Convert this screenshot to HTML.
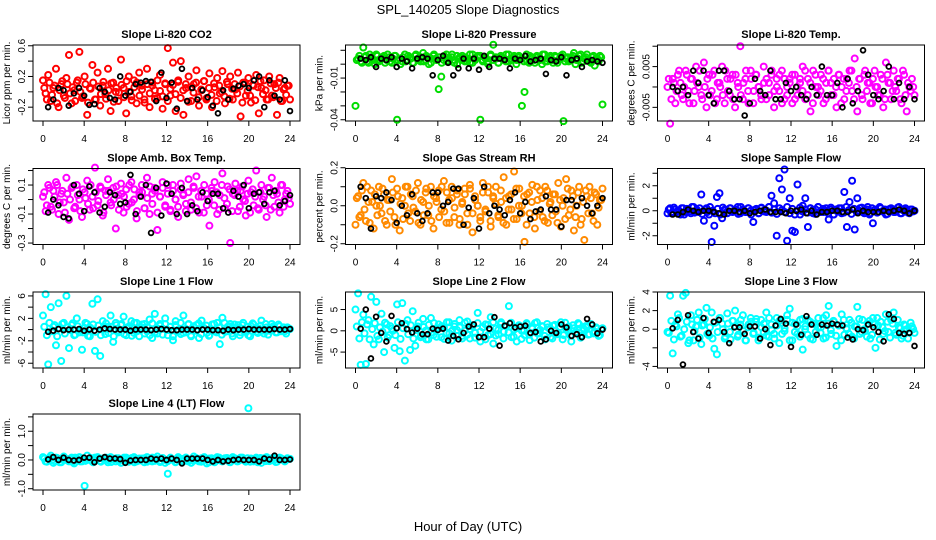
<!DOCTYPE html>
<html><head><meta charset="utf-8"><style>
html,body{margin:0;padding:0;background:#fff;}
svg{display:block;font-family:"Liberation Sans",sans-serif;}
</style></head><body>
<svg id="chart" width="936" height="540" viewBox="0 0 936 540" xmlns="http://www.w3.org/2000/svg">
<rect width="936" height="540" fill="#fff"/>
<text x="468" y="14" text-anchor="middle" font-size="13">SPL_140205  Slope Diagnostics</text>
<text x="468" y="531" text-anchor="middle" font-size="13">Hour of Day (UTC)</text>
</svg>
<script>
const blackHours = [0.5,1,1.5,2,2.5,3,3.5,4,4.5,5,5.5,6,6.5,7,7.5,8,8.5,9,9.5,10,10.5,11,11.5,12,12.5,13,13.5,14,14.5,15,15.5,16,16.5,17,17.5,18,18.5,19,19.5,20,20.5,21,21.5,22,22.5,23,23.5,24];
const hourTicks = [0,4,8,12,16,20,24];

const co2Vals = [0.15,-0.02,0.22,-0.12,0.05,0.3,-0.2,0.1,-0.05,0.18,0.48,-0.15,0.02,0.12,0.52,-0.08,0.2,-0.3,0.05,0.35,-0.1,0.25,-0.18,0.08,-0.03,0.3,-0.25,0.12,0.0,-0.12,0.42,0.05,-0.28,0.2,-0.06,0.15,-0.15,0.25,0.08,-0.1,0.3,-0.2,0.12,0.02,-0.08,0.22,-0.22,0.1,0.57,-0.05,0.38,-0.25,0.15,0.4,-0.3,0.05,0.2,-0.12,0.1,0.28,-0.18,0.02,0.14,-0.08,0.24,-0.2,0.06,0.18,-0.02,0.27,-0.15,0.1,0.2,-0.1,0.03,0.25,-0.32,0.12,-0.05,0.18,-0.14,0.08,0.22,-0.28,0.05,0.15,-0.1,0.2,-0.05,0.1,-0.3,0.18,-0.12,0.05,0.08,-0.1];
const co2Vals2 = [0.05,-0.1,0.12,-0.04,0.08,-0.15,0.02,0.14,-0.08,0.1,-0.02,0.06,-0.12,0.15,0.0,-0.06,0.1,-0.14,0.04,0.12,-0.1,0.07,-0.03,0.13,-0.09,0.02,0.11,-0.13,0.05,-0.01,0.09,-0.07,0.14,0.0,-0.11,0.06,0.12,-0.05,0.03,-0.14,0.1,-0.02,0.08,-0.09,0.15,0.01,-0.06,0.11,-0.12,0.04,0.09,-0.03,0.13,-0.08,0.02,0.1,-0.13,0.06,-0.01,0.12,-0.07,0.03,0.14,-0.1,0.05,-0.04,0.11,-0.12,0.08,0.0,-0.06,0.13,-0.09,0.04,0.1,-0.02,0.07,-0.14,0.12,0.01,-0.05,0.09,-0.11,0.06,0.14,-0.03,0.02,-0.1,0.11,-0.07,0.05,0.12,-0.12,0.03,-0.04,0.08];
const co2Black = [-0.2,-0.1,0.05,0.02,-0.18,-0.02,0.05,-0.05,-0.17,-0.16,0.05,0.0,-0.08,-0.1,0.2,-0.05,0.0,0.1,0.12,0.14,0.13,-0.12,0.25,-0.08,0.12,-0.22,0.3,-0.12,0.05,-0.1,0.02,-0.07,-0.18,-0.28,0.02,-0.1,0.04,0.08,0.1,0.05,0.15,0.2,-0.2,0.15,-0.05,-0.1,0.15,-0.25];

const pressVals = [-0.030,0.004,0.002,0.012,0.006,0.001,0.005,0.003,0.007,0.002,0.004,0.006,0.003,0.005,0.001,0.006,-0.040,0.004,0.002,0.007,0.003,0.005,0.001,0.006,0.004,0.002,0.008,0.003,0.005,0.001,0.006,0.004,-0.018,-0.009,0.003,0.007,0.002,0.005,0.001,0.006,0.004,0.003,0.005,0.002,0.007,0.001,0.004,0.006,-0.040,0.003,0.005,0.002,0.006,0.014,0.004,0.001,0.005,0.003,0.007,0.002,0.004,0.006,0.003,0.005,-0.030,-0.020,0.002,0.006,0.004,0.001,0.005,0.003,0.007,0.002,0.004,0.006,0.001,0.005,0.003,0.006,-0.041,0.004,0.002,0.005,0.008,0.003,0.006,0.001,0.004,0.007,0.002,0.005,-0.001,0.004,0.006,-0.029];
const pressVals2 = [0.003,0.006,0.001,0.005,0.002,0.007,0.004,0.0,0.006,0.003,0.005,0.001,0.007,0.002,0.004,0.006,0.003,0.0,0.005,0.002,0.006,0.004,0.001,0.007,0.003,0.005,0.002,0.006,0.0,0.004,0.007,0.003,0.005,0.001,0.006,0.002,0.004,0.007,0.003,0.0,0.005,0.006,0.002,0.004,0.001,0.007,0.003,0.005,0.006,0.002,0.004,0.0,0.007,0.003,0.005,0.001,0.006,0.004,0.002,0.007,0.003,0.005,0.0,0.006,0.004,0.002,0.007,0.001,0.005,0.003,0.006,0.004,0.0,0.007,0.002,0.005,0.003,0.006,0.001,0.004,0.007,0.002,0.005,0.003,0.006,0.0,0.004,0.007,0.002,0.005,0.003,0.001,0.006,0.004,0.002,0.005];
const pressBlack = [0.004,0.003,0.005,-0.002,0.004,0.003,0.005,-0.002,0.004,0.002,-0.003,0.004,0.005,0.004,-0.008,0.003,0.006,0.001,-0.008,-0.003,0.004,-0.003,0.004,-0.004,0.006,-0.002,0.004,0.004,0.003,-0.003,0.004,0.003,0.006,0.002,0.003,0.004,-0.007,0.003,0.002,0.005,-0.008,0.003,0.004,-0.002,0.002,0.003,0.002,0.001];

const liTempVals = [0.0,-0.009,0.002,-0.004,0.003,0.001,-0.003,0.004,-0.001,0.002,-0.004,0.005,0.0,-0.002,0.006,-0.005,0.003,-0.001,0.004,-0.003,0.001,0.005,-0.004,0.002,-0.002,0.003,-0.005,0.001,0.010,-0.003,0.002,-0.001,0.004,-0.004,0.003,0.0,-0.002,0.005,-0.003,0.001,0.003,-0.005,0.002,-0.001,0.004,-0.003,0.0,0.002,-0.004,0.003,-0.002,0.001,0.005,-0.003,0.002,-0.006,0.004,0.0,-0.002,0.003,-0.004,0.001,0.004,-0.002,0.002,-0.005,0.003,0.0,-0.003,0.002,0.004,-0.001,0.007,-0.006,0.002,-0.003,0.004,0.001,-0.004,0.002,0.0,-0.002,0.003,-0.005,0.006,0.001,-0.003,0.004,-0.001,0.002,-0.004,0.003,-0.006,0.0,0.002,-0.002];
const liTempVals2 = [0.002,-0.003,0.001,-0.001,0.004,-0.002,0.0,0.003,-0.004,0.002,-0.001,0.001,0.004,-0.003,0.0,0.002,-0.002,0.003,-0.004,0.001,0.0,-0.002,0.004,-0.001,0.002,-0.003,0.003,0.0,-0.002,0.001,0.004,-0.004,0.002,-0.001,0.003,0.0,-0.003,0.001,0.002,-0.002,0.004,-0.001,0.0,0.003,-0.004,0.002,-0.002,0.001,0.003,-0.003,0.0,0.002,-0.001,0.004,-0.002,0.001,-0.004,0.003,0.0,-0.001,0.002,-0.003,0.004,0.001,-0.002,0.0,0.003,-0.004,0.002,-0.001,0.001,0.004,-0.003,0.0,0.002,-0.002,0.003,-0.001,0.001,-0.004,0.004,0.0,-0.002,0.002,-0.003,0.003,0.001,-0.001,0.0,0.002,-0.003,0.004,-0.002,0.001,-0.001,0.0];
const liTempBlack = [0.0,-0.001,0.0,-0.002,0.004,0.001,0.004,-0.002,-0.004,0.004,0.004,-0.001,-0.003,-0.003,-0.007,-0.004,0.002,-0.001,-0.002,0.004,-0.003,-0.003,0.001,-0.001,0.0,-0.002,-0.003,0.0,-0.002,0.005,-0.002,-0.002,0.001,-0.005,0.002,-0.004,-0.001,0.009,0.003,-0.002,-0.003,-0.001,0.005,-0.003,0.001,-0.003,0.0,-0.003];

const ambVals = [0.02,-0.08,0.1,-0.05,0.06,0.12,-0.1,0.04,-0.02,0.15,-0.14,0.08,-0.06,0.1,0.0,-0.12,0.05,0.13,-0.07,0.02,0.22,-0.04,0.09,-0.11,0.06,0.14,-0.02,0.08,-0.2,0.03,0.11,-0.09,0.07,-0.03,0.12,0.0,-0.13,0.05,0.1,-0.06,0.15,-0.1,0.04,0.08,-0.21,0.02,0.12,-0.05,0.1,-0.08,0.06,0.0,-0.12,0.11,0.04,-0.03,0.14,-0.07,0.08,0.16,-0.09,0.02,0.1,-0.04,-0.18,0.06,0.12,-0.1,0.03,0.18,-0.06,0.09,-0.3,0.04,0.11,-0.08,0.06,0.0,-0.11,0.13,0.05,-0.04,0.2,-0.07,0.1,0.02,-0.12,0.08,0.15,-0.05,0.04,-0.09,0.1,0.0,0.06,-0.03];
const ambVals2 = [0.05,-0.04,0.08,-0.07,0.02,0.1,-0.02,0.06,-0.09,0.04,0.0,0.09,-0.05,0.03,-0.08,0.07,0.01,-0.03,0.1,-0.06,0.05,-0.01,0.08,-0.09,0.03,0.06,-0.04,0.0,0.09,-0.07,0.04,0.02,-0.05,0.1,-0.02,0.07,-0.08,0.03,0.05,-0.06,0.01,0.09,-0.03,0.06,-0.09,0.02,0.08,-0.04,0.04,-0.07,0.1,0.0,-0.05,0.07,0.03,-0.08,0.05,-0.02,0.09,-0.06,0.02,0.06,-0.09,0.04,0.0,0.08,-0.04,0.05,-0.07,0.1,0.01,-0.03,0.07,-0.08,0.03,0.06,-0.05,0.09,-0.01,0.04,-0.09,0.07,0.02,-0.06,0.05,0.0,-0.04,0.08,-0.07,0.03,0.06,-0.02,0.1,-0.05,0.04,0.01];
const ambBlack = [-0.09,0.0,-0.04,-0.12,-0.13,0.1,0.04,-0.08,0.09,0.05,-0.09,-0.05,0.05,0.03,-0.03,-0.02,0.17,-0.1,0.02,0.1,-0.23,0.08,-0.11,0.11,0.04,-0.1,0.08,-0.1,-0.04,-0.08,0.05,-0.01,0.04,0.04,-0.06,-0.09,0.06,0.02,0.1,-0.06,0.04,0.05,-0.03,0.05,0.06,-0.04,-0.01,0.03];

const rhVals = [-0.1,0.05,-0.05,0.12,-0.08,0.02,0.08,-0.12,0.0,0.1,-0.04,0.06,-0.1,0.03,0.14,-0.06,0.09,-0.13,0.04,0.0,0.1,-0.08,0.05,-0.03,0.12,-0.1,0.02,0.07,-0.05,0.1,-0.12,0.04,0.08,-0.02,0.13,-0.09,0.03,0.1,-0.06,0.06,-0.1,0.01,0.09,-0.04,0.11,-0.14,0.05,0.0,-0.08,0.12,-0.03,0.07,-0.11,0.04,0.1,-0.06,0.02,0.15,-0.1,0.05,-0.02,0.18,-0.07,0.09,0.0,-0.19,0.06,-0.04,0.11,-0.12,0.03,0.08,-0.06,0.1,-0.09,0.02,0.06,-0.03,0.12,-0.11,0.04,0.14,-0.05,0.08,-0.13,0.0,0.1,-0.07,-0.18,0.05,0.1,-0.04,0.07,-0.1,0.03,0.09];
const rhVals2 = [0.04,-0.06,0.08,-0.02,0.1,-0.09,0.02,0.06,-0.05,0.0,0.09,-0.08,0.03,-0.03,0.07,-0.1,0.05,0.01,-0.07,0.1,-0.04,0.06,-0.01,0.08,-0.09,0.03,-0.05,0.09,0.0,-0.08,0.05,0.02,-0.06,0.1,-0.03,0.07,-0.09,0.04,-0.01,0.08,-0.07,0.02,0.06,-0.1,0.09,-0.04,0.03,0.0,-0.06,0.07,-0.02,0.1,-0.08,0.05,0.01,-0.05,0.08,-0.09,0.04,-0.02,0.06,-0.07,0.09,0.0,-0.04,0.05,-0.1,0.07,0.02,-0.06,0.1,-0.03,0.04,-0.08,0.08,0.01,-0.05,0.06,-0.09,0.03,0.0,-0.07,0.09,-0.02,0.05,-0.06,0.07,-0.1,0.02,0.08,-0.04,0.04,-0.08,0.06,-0.01,0.03];
const rhBlack = [0.1,0.04,-0.12,0.05,0.04,0.07,0.03,-0.09,0.0,-0.05,0.06,-0.04,-0.08,-0.04,0.07,0.07,0.0,0.02,0.09,0.09,-0.1,-0.01,0.04,-0.12,0.1,-0.04,0.0,-0.02,-0.05,0.03,0.07,-0.04,0.02,-0.07,-0.03,-0.02,0.05,-0.02,-0.02,-0.11,0.03,0.03,0.0,0.04,0.0,-0.04,0.0,0.04];

const sampleVals = [-0.2,0.2,-0.1,0.1,0.0,-0.3,0.2,-0.1,0.1,-0.2,0.3,0.0,-0.1,1.3,-0.8,0.2,-0.3,-2.5,-1.2,1.1,1.4,-0.6,0.1,-0.2,0.2,-0.1,0.0,0.3,-0.2,0.1,-0.1,0.2,0.0,-0.9,0.1,-0.2,0.2,0.0,-0.1,0.3,1.2,0.6,-2.0,2.6,1.7,3.3,-2.4,1.0,-1.6,-1.7,2.1,-0.3,0.4,1.0,-1.3,0.2,-0.2,0.1,0.3,0.0,-0.1,0.2,-0.7,0.1,-0.3,0.0,0.2,-0.2,1.5,-1.3,0.7,2.4,-1.5,1.0,0.2,-0.1,0.0,0.3,-0.2,-1.0,0.1,-0.1,0.2,0.0,-0.3,0.1,0.2,-0.1,0.0,0.3,-0.2,0.1,0.0,-0.2,0.1,0.0];
const sampleVals2 = [0.1,-0.2,0.25,-0.1,0.0,0.2,-0.3,0.15,-0.05,0.3,-0.15,0.05,0.2,-0.25,0.1,-0.1,0.3,0.0,-0.2,0.15,-0.3,0.25,0.05,-0.15,0.2,-0.05,0.1,-0.25,0.3,0.0,-0.1,0.2,-0.3,0.05,0.15,-0.2,0.25,-0.05,0.0,0.3,-0.15,0.1,-0.25,0.2,0.05,-0.1,0.3,-0.2,0.15,-0.3,0.0,0.25,-0.05,0.1,-0.15,0.2,0.05,-0.25,0.3,-0.1,0.15,0.0,-0.2,0.25,-0.3,0.1,-0.05,0.2,-0.15,0.3,0.05,-0.25,0.15,-0.1,0.0,0.25,-0.2,0.1,-0.3,0.2,0.05,-0.15,0.3,-0.05,0.1,-0.25,0.15,0.0,-0.1,0.25,-0.2,0.05,0.2,-0.15,0.1,-0.05];
const sampleBlack = [-0.3,-0.3,-0.1,0.1,0.0,-0.1,0.0,0.0,-0.1,-0.2,-0.3,0.0,0.0,-0.1,0.0,-0.2,-0.1,0.0,0.1,-0.1,-0.1,-0.1,-0.2,0.0,0.0,0.1,-0.2,0.0,-0.3,-0.1,-0.1,0.0,0.0,-0.1,-0.1,0.1,-0.2,0.0,-0.1,-0.1,-0.1,0.0,-0.1,0.0,0.1,0.0,-0.2,0.0];

const line1Vals = [2.5,6.3,-6.2,4.0,0.5,-2.8,4.7,-5.6,1.2,6.0,-3.3,0.8,-1.0,2.0,-0.5,-3.6,0.3,1.0,-1.2,4.6,-3.8,5.4,-4.7,1.5,-0.8,0.5,2.5,-2.2,1.2,-0.5,0.8,2.3,-1.0,0.3,1.5,-0.6,1.2,-1.2,0.4,1.0,-0.3,1.8,-1.5,2.8,-0.7,1.0,0.2,2.0,-1.0,0.5,-1.9,1.5,0.0,-0.8,2.5,-0.5,1.0,-1.2,0.4,0.8,-1.5,1.6,0.2,-0.6,-1.0,0.9,-0.3,1.2,-2.6,2.1,-0.4,0.5,1.0,-1.2,0.3,0.8,-0.5,1.2,-0.2,-1.0,0.6,0.9,-0.4,0.2,1.6,-0.7,0.4,-0.2,1.0,0.3,-0.5,0.6,0.0,-0.3,0.4,0.1];
const line1Vals2 = [0.5,-1.0,1.2,-0.3,0.8,-1.2,0.2,1.0,-0.7,0.4,-0.1,1.1,-0.9,0.6,0.0,-0.5,1.2,-1.1,0.3,0.9,-0.4,0.7,-1.0,0.1,1.1,-0.6,0.5,-1.2,0.8,-0.2,1.0,-0.8,0.3,0.6,-1.1,1.2,-0.3,0.0,0.9,-0.7,0.4,-1.0,1.1,-0.5,0.2,0.7,-0.9,1.0,-0.1,0.5,-1.2,0.8,-0.4,1.2,-0.6,0.1,0.9,-1.0,0.6,-0.2,1.1,-0.8,0.3,0.7,-1.1,0.0,1.0,-0.5,0.4,-0.9,1.2,-0.3,0.6,-0.7,0.9,0.2,-1.0,0.8,-0.4,0.5,-1.2,1.1,0.0,-0.6,0.7,-0.2,1.0,-0.9,0.3,0.6,-0.5,0.9,-0.3,0.4,-0.7,0.2];
const line1Black = [-0.4,-0.2,0.1,-0.1,0.0,0.0,0.1,-0.2,0.0,-0.2,0.0,0.2,0.1,0.0,0.0,0.0,-0.2,0.0,0.0,0.0,-0.1,0.0,0.1,0.0,-0.1,-0.1,0.0,0.0,0.0,-0.1,0.0,0.0,-0.1,-0.1,-0.2,0.0,-0.1,0.0,0.0,0.1,0.0,0.0,0.0,0.0,0.1,0.0,0.0,0.1];

const line2Vals = [5.0,8.8,-8.0,3.8,-7.8,2.5,8.0,-3.2,6.8,-2.0,4.0,-5.0,1.5,-1.0,0.5,-4.0,6.2,-4.8,6.5,-7.0,2.5,-4.5,4.6,-3.5,1.0,-1.5,2.8,0.0,-2.0,3.0,-1.0,0.5,1.5,-1.5,0.8,-0.5,2.0,-2.3,1.0,0.2,2.5,-1.2,0.0,2.2,-1.8,1.0,-0.5,4.2,-2.5,0.8,1.5,-1.0,3.2,-3.0,0.5,-0.8,2.0,-0.2,1.0,5.8,-1.5,0.3,-2.5,1.2,0.0,-1.0,1.5,-2.2,0.5,1.8,-0.6,0.2,1.0,-2.0,0.8,-1.5,1.2,0.0,-0.5,2.0,-1.0,0.4,1.0,-2.5,0.6,-0.3,1.5,-1.2,0.3,0.8,-0.8,1.2,-0.2,0.5,-1.0,0.6];
const line2Vals2 = [1.0,-1.8,2.0,-0.6,1.5,-2.0,0.4,1.8,-1.2,0.8,-0.2,1.9,-1.6,1.1,0.0,-1.0,2.0,-1.9,0.6,1.6,-0.8,1.3,-1.8,0.2,1.9,-1.1,0.9,-2.0,1.4,-0.4,1.8,-1.4,0.6,1.1,-1.9,2.0,-0.6,0.0,1.6,-1.2,0.8,-1.8,1.9,-0.9,0.4,1.3,-1.6,1.8,-0.2,0.9,-2.0,1.4,-0.8,2.0,-1.1,0.2,1.6,-1.8,1.1,-0.4,1.9,-1.4,0.6,1.3,-1.9,0.0,1.8,-0.9,0.8,-1.6,2.0,-0.6,1.1,-1.2,1.6,0.4,-1.8,1.4,-0.8,0.9,-2.0,1.9,0.0,-1.1,1.3,-0.4,1.8,-1.6,0.6,1.1,-0.9,1.6,-0.6,0.8,-1.2,0.4];
const line2Black = [0.5,5.0,-6.5,3.3,-0.5,-2.5,3.5,0.6,1.8,0.4,-0.4,0.5,-0.8,-0.8,0.5,0.2,0.5,-2.3,-1.2,-2.0,-0.5,1.0,1.5,-1.5,-1.5,0.5,3.2,-3.5,1.2,1.8,0.8,1.0,1.2,-0.5,-0.3,-2.5,-2.0,0.0,-0.5,1.5,0.8,-1.2,-0.8,-1.5,2.8,1.5,-0.6,0.3];

const line3Vals = [-0.3,3.6,-2.6,0.5,1.6,-0.8,3.6,3.9,-1.5,1.5,-1.2,0.3,1.8,-1.6,0.5,2.3,-0.7,1.8,-2.1,-2.7,1.2,0.6,-1.0,1.7,-0.3,0.9,2.0,-0.8,0.5,1.5,-1.2,0.2,1.2,-0.5,0.8,-1.2,1.0,-0.3,1.8,-0.8,0.5,-0.5,1.2,-1.5,0.7,-0.2,1.5,2.2,-1.2,0.6,-0.5,1.0,-2.2,0.3,1.0,-1.0,0.6,-0.3,1.2,0.2,-1.0,1.5,2.5,-0.5,0.8,-1.8,0.4,1.6,-0.6,0.0,1.0,-0.8,0.3,2.4,-0.5,1.0,-0.2,0.6,-1.0,1.2,-2.0,0.4,0.8,-0.5,1.6,-0.3,1.0,1.8,-0.6,0.2,-1.0,0.5,0.0,-0.3,0.3,-0.4];
const line3Vals2 = [-0.4,0.9,-1.1,0.3,1.2,-0.7,0.0,0.8,-1.2,0.5,-0.2,1.0,-0.9,0.4,1.1,-0.5,0.2,-1.0,0.7,-0.3,1.2,0.0,-0.8,0.6,-1.1,0.9,0.3,-0.6,1.0,-0.2,-1.2,0.5,0.8,-0.4,1.1,-0.9,0.2,0.6,-0.7,1.2,-0.1,-1.0,0.4,0.9,-0.5,0.1,1.0,-1.2,0.7,-0.3,0.3,-0.8,1.1,0.0,-0.6,0.8,-1.1,0.5,0.2,-0.4,1.2,-0.9,0.6,-0.1,0.9,-0.7,0.4,-1.2,1.0,0.1,-0.5,0.7,-1.0,0.3,1.1,-0.3,0.0,-0.8,0.9,-0.6,0.5,1.2,-1.1,0.2,-0.2,0.8,-0.9,0.6,-0.4,1.0,0.1,-0.7,0.4,-1.0,0.7,0.0];
const line3Black = [0.1,1.0,-3.8,1.5,-0.3,-1.0,1.2,-0.4,0.8,1.0,-0.3,-1.5,0.2,0.2,-0.5,0.3,0.3,-1.0,0.0,-1.7,0.4,1.1,0.6,-1.9,0.5,-0.6,1.4,0.5,-0.6,0.5,0.4,0.6,0.5,0.4,-0.9,-1.1,0.0,-0.1,0.5,0.2,-0.3,-1.3,1.6,1.1,-0.4,-0.5,-0.4,-1.8];

const line4Vals = [0.1,-0.05,0.05,0.15,-0.1,0.08,0.0,-0.08,0.12,0.02,-0.05,0.08,-0.12,0.05,0.1,-0.05,-0.9,0.15,0.0,-0.06,0.08,0.1,-0.04,0.05,0.0,-0.08,0.1,0.02,-0.05,0.06,-0.1,0.04,0.08,-0.06,0.0,0.1,-0.05,0.05,0.02,-0.08,0.1,0.0,-0.05,0.06,0.12,-0.04,0.05,-0.1,-0.48,0.08,0.0,-0.06,0.1,0.04,-0.05,0.08,0.0,-0.1,0.12,0.02,-0.05,0.06,0.1,-0.12,0.05,0.0,-0.08,0.1,0.04,-0.05,0.06,0.0,-0.08,0.1,0.05,-0.04,0.08,0.0,-0.06,1.8,0.05,-0.05,0.08,0.0,-0.1,0.06,0.1,-0.04,0.05,0.0,-0.06,0.08,0.02,-0.05,0.06,0.04];
const line4Vals2 = [0.05,-0.06,0.08,0.0,-0.04,0.07,-0.08,0.03,0.06,-0.02,0.04,-0.07,0.08,0.01,-0.05,0.06,-0.03,0.02,0.07,-0.08,0.0,0.05,-0.06,0.04,0.08,-0.01,-0.07,0.03,0.06,-0.04,0.02,0.08,-0.05,0.0,0.07,-0.08,0.04,-0.02,0.05,0.06,-0.06,0.01,0.08,-0.03,0.03,-0.07,0.07,0.0,-0.04,0.05,0.02,-0.08,0.06,-0.01,0.04,0.08,-0.05,0.03,-0.03,0.07,0.0,-0.06,0.05,0.02,-0.08,0.06,0.04,-0.02,0.08,-0.04,0.01,0.07,-0.07,0.03,0.05,-0.05,0.0,0.08,-0.03,0.06,-0.06,0.02,0.04,-0.08,0.07,0.01,-0.04,0.05,-0.02,0.08,-0.07,0.03,0.06,-0.01,0.0,0.04];
const line4Black = [0.02,0.1,0.0,0.08,0.0,-0.02,0.0,0.08,0.08,-0.08,0.05,0.1,0.05,0.05,0.03,-0.1,-0.02,0.0,0.0,0.0,0.05,0.02,0.05,0.0,0.05,0.0,-0.12,0.05,0.05,0.05,0.05,0.0,-0.05,0.0,-0.05,-0.03,0.0,0.02,0.0,0.0,0.0,-0.05,0.05,0.02,0.15,0.0,0.0,0.02];

const co2Ticks = [-0.2,0,0.2,0.4,0.6];           const co2Labels = ["-0.2","","0.2","","0.6"];
const pressTicks = [-0.04,-0.03,-0.02,-0.01,0,0.01]; const pressLabels = ["-0.04","","","-0.01","",""];
const liTempTicks = [-0.005,0,0.005,0.01];       const liTempLabels = ["-0.005","","0.005",""];
const ambTicks = [-0.3,-0.2,-0.1,0,0.1,0.2];     const ambLabels = ["-0.3","","-0.1","","0.1",""];
const rhTicks = [-0.2,-0.1,0,0.1,0.2];           const rhLabels = ["-0.2","","0.0","","0.2"];
const sampleTicks = [-2,-1,0,1,2,3];             const sampleLabels = ["-2","","0","","2",""];
const line1Ticks = [-6,-4,-2,0,2,4,6];           const line1Labels = ["-6","","-2","","2","","6"];
const line2Ticks = [-5,0,5];                     const line2Labels = ["-5","0","5"];
const line3Ticks = [-4,-2,0,2,4];                const line3Labels = ["-4","","0","2","4"];
const line4Ticks = [-1,-0.5,0,0.5,1,1.5];        const line4Labels = ["-1.0","","0.0","","1.0",""];

const svg = document.getElementById('chart');
const NS = 'http://www.w3.org/2000/svg';
const colLeft = [33, 345.5, 657.5];
const rowTop = [45, 168.5, 292, 414];
const BW = 267, BH = 76;

function mk(tag, attrs, parent) {
  const e = document.createElementNS(NS, tag);
  for (const k in attrs) e.setAttribute(k, attrs[k]);
  (parent || svg).appendChild(e);
  return e;
}

function panel(key, title, ylabel, col, row, ylo, yhi, ticks, labels, color, vals, vals2, blacks) {
  const L = colLeft[col], T = rowTop[row], B = T + BH;
  const g = mk('g', {});
  
  
  const x = h => L + 10 + h * (247 / 24);
  const y = v => B - (v - ylo) / (yhi - ylo) * BH;
  const t = mk('text', {x: L + BW / 2, y: T - 7, 'text-anchor': 'middle', 'font-size': 11, 'font-weight': 'bold'}, g);
  t.textContent = title;
  
  
  const yl = mk('text', {x: 0, y: 0, transform: `translate(${L - 23},${T + BH / 2}) rotate(-90)`, 'text-anchor': 'middle', 'font-size': 10}, g);
  yl.textContent = ylabel;
  
  
  ticks.forEach((tv, i) => {
    const yy = y(tv);
    const tk = mk('line', {x1: L - 5, x2: L, y1: yy, y2: yy, stroke: '#000', 'stroke-width': 1}, g);
    
    
    if (labels[i]) {
      const tl = mk('text', {x: 0, y: 0, transform: `translate(${L - 8},${yy}) rotate(-90)`, 'text-anchor': 'middle', 'font-size': 10}, g);
      tl.textContent = labels[i];
      
      
    }
  });
  mk('line', {x1: x(0), x2: x(24), y1: B, y2: B, stroke: '#000'}, g);
  hourTicks.forEach(h => {
    const tk = mk('line', {x1: x(h), x2: x(h), y1: B, y2: B + 5, stroke: '#000'}, g);
    
    
    const tl = mk('text', {x: x(h), y: B + 21, 'text-anchor': 'middle', 'font-size': 10}, g);
    tl.textContent = String(h);
    
    
  });
  const n = vals.length;
  vals.forEach((v, i) => {
    const h = i * 24 / (n - 1);
    const c = mk('circle', {cx: x(h), cy: y(v), r: 3, fill: 'none', stroke: color, 'stroke-width': 2}, g);
    
    
  });
  const n2 = vals2.length;
  vals2.forEach((v, i) => {
    const h = (i + 0.5) * 24 / n2;
    const c = mk('circle', {cx: x(h), cy: y(v), r: 3, fill: 'none', stroke: color, 'stroke-width': 2}, g);
    
    
  });
  blacks.forEach((v, i) => {
    const c = mk('circle', {cx: x(blackHours[i]), cy: y(v), r: 2.4, fill: 'none', stroke: '#000', 'stroke-width': 1.8}, g);
    
    
  });
  const box = mk('rect', {x: L, y: T, width: BW, height: BH, fill: 'none', stroke: '#000', 'stroke-width': 1}, g);
  
  
}

panel('co2', 'Slope Li-820 CO2', 'Licor ppm per min.', 0, 0, -0.38, 0.61, co2Ticks, co2Labels, '#ff0000', co2Vals, co2Vals2, co2Black);
panel('pressure', 'Slope Li-820 Pressure', 'kPa per min.', 1, 0, -0.0409, 0.0138, pressTicks, pressLabels, '#00dd00', pressVals, pressVals2, pressBlack);
panel('li-temp', 'Slope Li-820 Temp.', 'degrees C per min.', 2, 0, -0.00835, 0.0103, liTempTicks, liTempLabels, '#ff00ff', liTempVals, liTempVals2, liTempBlack);
panel('amb-temp', 'Slope Amb. Box Temp.', 'degrees C per min.', 0, 1, -0.31, 0.214, ambTicks, ambLabels, '#ff00ff', ambVals, ambVals2, ambBlack);
panel('rh', 'Slope Gas Stream RH', 'percent per min.', 1, 1, -0.204, 0.196, rhTicks, rhLabels, '#ff8a00', rhVals, rhVals2, rhBlack);
panel('sample-flow', 'Slope Sample Flow', 'ml/min per min.', 2, 1, -2.7, 3.38, sampleTicks, sampleLabels, '#0000ff', sampleVals, sampleVals2, sampleBlack);
panel('line1', 'Slope Line 1 Flow', 'ml/min per min.', 0, 2, -6.85, 6.7, line1Ticks, line1Labels, '#00ffff', line1Vals, line1Vals2, line1Black);
panel('line2', 'Slope Line 2 Flow', 'ml/min per min.', 1, 2, -8.74, 9.12, line2Ticks, line2Labels, '#00ffff', line2Vals, line2Vals2, line2Black);
panel('line3', 'Slope Line 3 Flow', 'ml/min per min.', 2, 2, -4.17, 4.0, line3Ticks, line3Labels, '#00ffff', line3Vals, line3Vals2, line3Black);
panel('line4', 'Slope Line 4 (LT) Flow', 'ml/min per min.', 0, 3, -1.045, 1.6, line4Ticks, line4Labels, '#00ffff', line4Vals, line4Vals2, line4Black);
</script>
</body></html>
